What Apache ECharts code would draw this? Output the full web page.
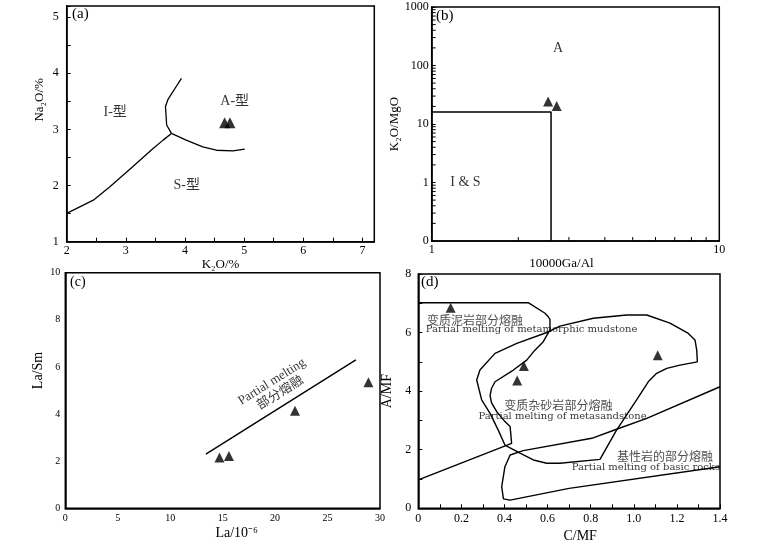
<!DOCTYPE html>
<html><head><meta charset="utf-8">
<script src="https://cdn.jsdelivr.net/npm/echarts@6/dist/echarts.min.js"></script>
<style>html,body{margin:0;padding:0;background:#fff}#c{width:770px;height:545px}</style>
</head><body><div id="c"></div>
<script>
// ---------- Panel (a): Na2O vs K2O ----------
const aLineIS = [[2,1.505],[2.45,1.74],[2.73,1.98],[3.12,2.34],[3.46,2.66],[3.63,2.81],[3.77,2.93]];
const aLineIA = [[3.77,2.93],[3.69,3.08],[3.67,3.41],[3.71,3.53],[3.83,3.73],[3.94,3.91]];
const aLineSA = [[3.77,2.93],[4.02,2.81],[4.30,2.69],[4.53,2.63],[4.81,2.62],[5.01,2.65]];
const aSamples = [[4.67,3.12],[4.76,3.12]];
const aLabels = [['I-型',2.82,3.30],['A-型',4.84,3.51],['S-型',4.03,2.01]];
// ---------- Panel (b): K2O/MgO vs 10000Ga/Al ----------
const bFieldIS = [[1,16],[2.6,16],[2.6,0.1]];
const bSamples = [[2.54,24.2],[2.72,20.4]];
const bLabels = [['A',2.75,200],['I & S',1.31,1.0]];
const bMinorX = [2,3,4,5,6,7,8,9];
const bMinorY = [0.2,0.3,0.4,0.5,0.6,0.7,0.8,0.9,2,3,4,5,6,7,8,9,20,30,40,50,60,70,80,90,200,300,400,500,600,700,800,900];
// ---------- Panel (c): La/Sm vs La ----------
const cTrend = [[13.4,2.3],[27.7,6.3]];
const cSamples = [[14.7,2.16],[15.6,2.22],[21.9,4.14],[28.9,5.35]];
const cLabels = [['Partial melting',19.7,5.37],['部分熔融',20.5,4.89]];
// ---------- Panel (d): A/MF vs C/MF ----------
const dMudstone = [[0,7.02],[0.51,7.02],[0.588,6.66],[0.603,6.54],[0.611,6.45],[0.611,6.09],[0.58,5.69],[0.541,5.40],[0.503,5.06],[0.441,4.72],[0.356,4.32],[0.34,4.10],[0.333,3.85],[0.34,3.60],[0.364,3.30],[0.402,2.96],[0.426,2.79],[0.433,2.22],[0,0.97]];
const dSandstone = [[0.294,3.70],[0.333,3.24],[0.371,2.67],[0.402,2.16],[0.472,1.88],[0.534,1.65],[0.596,1.54],[0.657,1.54],[0.843,1.67],[0.92,2.67],[1.013,3.70],[1.067,4.32],[1.106,4.61],[1.153,4.78],[1.214,4.89],[1.295,5.0],[1.292,5.40],[1.284,5.75],[1.253,5.97],[1.168,6.32],[1.06,6.60],[0.967,6.60],[0.812,6.49],[0.657,6.22],[0.603,6.02],[0.457,5.63],[0.356,5.29],[0.286,4.72],[0.271,4.38],[0.294,3.70]];
const dBasic = [[1.4,1.42],[0.70,0.68],[0.426,0.28],[0.395,0.32],[0.387,0.74],[0.402,1.42],[0.426,1.82],[0.487,1.97],[0.805,2.39],[0.92,2.70],[1.06,3.07],[1.4,4.15]];
const dSamples = [[0.15,6.85],[0.49,4.86],[0.459,4.36],[1.111,5.23]];
const dLabelsCN = [['变质泥岩部分熔融',0.263,6.43],['变质杂砂岩部分熔融',0.65,3.50],['基性岩的部分熔融',1.145,1.76]];
const dLabelsEN = [['Partial melting of metamorphic mudstone',0.526,6.11],['Partial melting of metasandstone',0.669,3.15],['Partial melting of basic rocks',1.056,1.39]];

const SERIF = "'Liberation Serif','Noto Sans CJK SC',serif";
const BLACK = '#000';

function axis(grid, o) {
  return Object.assign({
    type: 'value', gridIndex: grid, splitLine: {show: false},
    axisLine: {show: true, onZero: false, lineStyle: {color: BLACK, width: 1.5}},
    axisTick: {show: true, inside: true, length: 4, lineStyle: {color: BLACK, width: 1}},
    axisLabel: {color: BLACK, fontFamily: SERIF, fontSize: 12, margin: 4},
    nameLocation: 'middle',
    nameTextStyle: {color: BLACK, fontFamily: SERIF, fontSize: 13}
  }, o);
}
function lineS(xi, data, w) {
  return {type: 'line', xAxisIndex: xi, yAxisIndex: xi, data: data, showSymbol: false, symbol: 'none',
    lineStyle: {color: BLACK, width: w || 1.4}, silent: true, animation: false};
}
function tri(xi, data, size) {
  return {type: 'scatter', xAxisIndex: xi, yAxisIndex: xi, data: data, symbol: 'triangle',
    symbolSize: size || 10, itemStyle: {color: BLACK}, silent: true, animation: false};
}
function textS(xi, arr, style, rotate) {
  return {type: 'scatter', xAxisIndex: xi, yAxisIndex: xi, symbolSize: 1,
    itemStyle: {color: 'rgba(0,0,0,0)'}, silent: true, animation: false,
    data: arr.map(d => ({name: d[0], value: [d[1], d[2]]})),
    label: Object.assign({show: true, position: 'inside', formatter: '{b}', color: BLACK, rotate: rotate || 0}, style)};
}
function tickS(xi, data, horiz) {
  return {type: 'custom', xAxisIndex: xi, yAxisIndex: xi, silent: true, animation: false, clip: false,
    data: data,
    renderItem: function (params, api) {
      const p = api.coord([api.value(0), api.value(1)]);
      return {type: 'line',
        shape: horiz ? {x1: p[0], y1: p[1], x2: p[0] + 4, y2: p[1]} : {x1: p[0], y1: p[1], x2: p[0], y2: p[1] - 4},
        style: {stroke: BLACK, lineWidth: 1}};
    }};
}
function nts(size, pad) {
  return {color: BLACK, fontFamily: SERIF, fontSize: size, padding: pad || [0, 0, 0, 0]};
}
function lbl(size, margin, extra) {
  return Object.assign({color: BLACK, fontFamily: SERIF, fontSize: size, margin: margin}, extra || {});
}

const gridStyle = {show: true, borderColor: BLACK, borderWidth: 1.5, containLabel: false, outerBoundsMode: 'none'};
const titleStyle = size => ({fontFamily: SERIF, fontSize: size, fontWeight: 'normal', color: BLACK});
const option = {
  animation: false,
  backgroundColor: '#fff',
  title: [
    {text: '(a)', left: 72, top: 7, padding: 0, textStyle: titleStyle(15)},
    {text: '(b)', left: 436, top: 9, padding: 0, textStyle: titleStyle(15)},
    {text: '(c)', left: 70, top: 275, padding: 0, textStyle: titleStyle(14)},
    {text: '(d)', left: 421, top: 275, padding: 0, textStyle: titleStyle(15)}
  ],
  grid: [
    Object.assign({left: 66.7, top: 6, width: 307.6, height: 235.7}, gridStyle),
    Object.assign({left: 431.7, top: 7, width: 287.6, height: 234}, gridStyle),
    Object.assign({left: 65.3, top: 272.7, width: 314.7, height: 235.6}, gridStyle),
    Object.assign({left: 418.3, top: 274, width: 301.7, height: 234.3}, gridStyle)
  ],
  xAxis: [
    axis(0, {min: 2, max: 7.2, interval: 1, minorTick: {show: true, splitNumber: 2, length: 4, lineStyle: {color: BLACK}},
      axisLabel: lbl(12, 3, {showMaxLabel: false}),
      name: 'K₂O/%', nameGap: 14, nameTextStyle: nts(13)}),
    axis(1, {type: 'log', logBase: 10, min: 1, max: 10,
      axisLabel: lbl(12, 3),
      name: '10000Ga/Al', nameGap: 14, nameTextStyle: nts(13, [0, 28, 0, 0])}),
    axis(2, {min: 0, max: 30, interval: 5, axisTick: {show: false},
      axisLabel: lbl(10, 5),
      name: 'La/10⁻⁶', nameGap: 18, nameTextStyle: nts(14, [0, 0, 0, 28])}),
    axis(3, {min: 0, max: 1.4, interval: 0.2, minorTick: {show: true, splitNumber: 2, length: 4, lineStyle: {color: BLACK}},
      axisLabel: lbl(12, 5, {formatter: v => v === 0 ? '0' : v.toFixed(1)}),
      name: 'C/MF', nameGap: 21, nameTextStyle: nts(14, [0, 0, 0, 22])})
  ],
  yAxis: [
    axis(0, {min: 1, max: 5.2, interval: 1, minorTick: {show: true, splitNumber: 2, length: 4, lineStyle: {color: BLACK}},
      axisLabel: lbl(12, 8, {showMaxLabel: false}),
      name: 'Na₂O/%', nameGap: 21, nameTextStyle: nts(13, [0, 0, 0, 48])}),
    axis(1, {type: 'log', logBase: 10, min: 0.1, max: 1000,
      axisLabel: lbl(12, 3, {formatter: v => v < 1 ? '0' : String(Math.round(v))}),
      name: 'K₂O/MgO', nameGap: 23, nameTextStyle: nts(13)}),
    axis(2, {min: 0, max: 10, interval: 2, axisTick: {show: false},
      axisLabel: lbl(10, 5),
      name: 'La/Sm', nameGap: 20, nameTextStyle: nts(14, [0, 0, 0, 40])}),
    axis(3, {min: 0, max: 8, interval: 2, minorTick: {show: true, splitNumber: 2, length: 4, lineStyle: {color: BLACK}},
      axisLabel: lbl(12, 7),
      name: 'A/MF', nameGap: 24, nameTextStyle: nts(14)})
  ],
  series: [
    lineS(0, aLineIS, 1.3), lineS(0, aLineIA, 1.3), lineS(0, aLineSA, 1.3),
    tri(0, aSamples, 11),
    textS(0, aLabels, {fontFamily: SERIF, fontSize: 14}),
    lineS(1, bFieldIS, 1.5),
    tri(1, bSamples, 10),
    textS(1, bLabels, {fontFamily: SERIF, fontSize: 14}),
    tickS(1, bMinorX.map(v => [v, 0.1]), false),
    tickS(1, bMinorY.map(v => [1, v]), true),
    lineS(2, cTrend, 1.4),
    tri(2, cSamples, 10),
    textS(2, cLabels, {fontFamily: SERIF, fontSize: 13}, 32),
    lineS(3, dMudstone, 1.4), lineS(3, dSandstone, 1.4), lineS(3, dBasic, 1.4),
    tri(3, dSamples, 10),
    textS(3, dLabelsCN, {fontFamily: "'Noto Sans CJK SC',sans-serif", fontSize: 12, fontWeight: 'normal', color: '#222'}),
    textS(3, dLabelsEN, {fontFamily: "'DejaVu Serif',serif", fontSize: 10})
  ]
};
const chart = echarts.init(document.getElementById('c'), null, {renderer: 'canvas'});
chart.setOption(option);
</script></body></html>
